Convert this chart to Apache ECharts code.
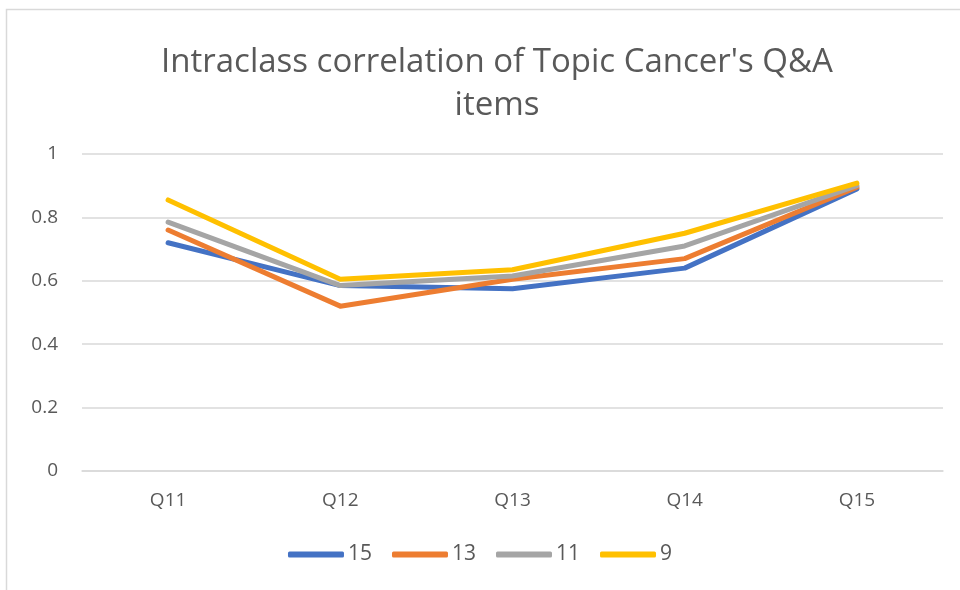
<!DOCTYPE html>
<html>
<head>
<meta charset="utf-8">
<script src="https://cdn.jsdelivr.net/npm/echarts@6/dist/echarts.min.js"></script>
<style>
  html, body { margin: 0; padding: 0; background: #fff; }
  #chart { width: 960px; height: 590px; }
</style>
</head>
<body>
<div id="chart"></div>
<script>
// categories and series values
var questions = ['Q11', 'Q12', 'Q13', 'Q14', 'Q15'];
var s15 = [0.72, 0.585, 0.575, 0.64, 0.89];
var s13 = [0.76, 0.52, 0.605, 0.67, 0.895];
var s11 = [0.785, 0.585, 0.615, 0.71, 0.9];
var s9 = [0.855, 0.605, 0.635, 0.75, 0.908];
var yTicks = [0, 0.2, 0.4, 0.6, 0.8, 1];

var chart = echarts.init(document.getElementById('chart'));

function line(name, data, color) {
    return {
        name: name,
        type: 'line',
        data: data,
        symbol: 'none',
        lineStyle: { width: 5, color: color, cap: 'round', join: 'round' },
        itemStyle: { color: color }
    };
}

chart.setOption({
    animation: false,
    textStyle: { fontFamily: 'Open Sans, Noto Sans, sans-serif' },
    graphic: [{
        type: 'rect',
        shape: { x: 6.5, y: 9.5, width: 980, height: 600 },
        style: { fill: 'none', stroke: '#d9d9d9', lineWidth: 1.5 }
    }],
    title: {
        text: "Intraclass correlation of Topic Cancer's Q&A\nitems",
        left: 492,
        top: 36,
        textAlign: 'center',
        textStyle: { color: '#595959', fontSize: 33, fontWeight: 'normal', lineHeight: 43 }
    },
    legend: {
        bottom: 20,
        left: 'center',
        itemWidth: 56,
        itemHeight: 6,
        itemGap: 20,
        icon: 'roundRect',
        textStyle: { color: '#595959', fontSize: 21, padding: [0, 0, 0, -1] },
        data: ['15', '13', '11', '9']
    },
    grid: { left: 82, right: 17, top: 154, bottom: 119 },
    xAxis: {
        type: 'category',
        data: questions,
        boundaryGap: true,
        axisLine: { lineStyle: { color: '#d9d9d9', width: 1.5 } },
        axisTick: { show: false },
        axisLabel: { color: '#595959', fontSize: 19, margin: 20 }
    },
    yAxis: {
        type: 'value',
        min: yTicks[0],
        max: yTicks[yTicks.length - 1],
        interval: 0.2,
        axisLine: { show: false },
        axisTick: { show: false },
        splitLine: { lineStyle: { color: '#d9d9d9', width: 1.5 } },
        axisLabel: { color: '#595959', fontSize: 19, margin: 24 }
    },
    series: [
        line('15', s15, '#4472C4'),
        line('13', s13, '#ED7D31'),
        line('11', s11, '#A5A5A5'),
        line('9', s9, '#FFC000')
    ]
});
</script>
</body>
</html>
